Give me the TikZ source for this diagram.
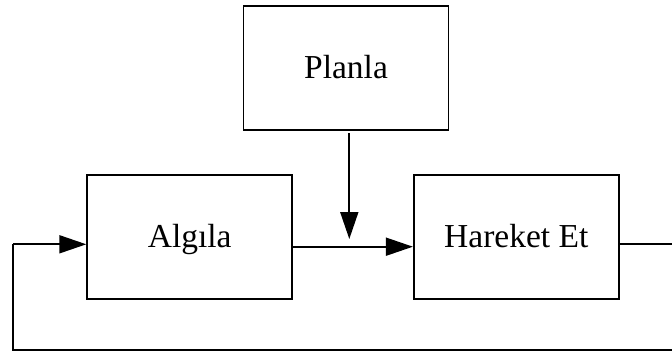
\documentclass[tikz,border=0pt]{standalone}
\usepackage{fontspec}
\setmainfont{Liberation Serif}
\usetikzlibrary{arrows.meta}
\begin{document}
\begin{tikzpicture}[x=1pt,y=-1pt,
  block/.style={draw, line width=1.8pt, minimum width=205pt, minimum height=124pt,
    inner sep=0pt, font=\fontsize{33.5}{36}\selectfont, text height=22pt, text depth=0pt},
  link/.style={line width=1.8pt},
  flow/.style={link, -{Triangle[length=27pt,width=18pt]}}]
  \useasboundingbox (0,0) rectangle (672,353);
  \clip (0,0) rectangle (672,353);

  % the three stages
  \node[block] (planla) at (346,67.8) {Planla};
  \node[block] (algila) at (189.7,236.7) {Algıla};
  \node[block] (hareket) at (516.3,236.7) {Hareket Et};

  % planning feeds into the sense-to-act line
  \coordinate (planOut) at (349.3,133.3);
  \coordinate (planTip) at (349.3,239);
  \draw[flow] (planOut) -- (planTip);

  % sense -> act
  \draw[flow] (algila.east |- 0,246.7) -- (hareket.west |- 0,246.7);

  % feedback loop from act back to sense
  \coordinate (fbRightTop) at (690,244.3);
  \coordinate (fbRightBot) at (690,350);
  \coordinate (fbLeftBot) at (13.3,350);
  \coordinate (fbLeftTop) at (13.3,244.3);
  \draw[link] (hareket.east |- 0,244.3) -- (fbRightTop) -- (fbRightBot) -- (fbLeftBot) -- (fbLeftTop);
  \draw[flow] (fbLeftTop) -- (algila.west |- 0,244.3);
\end{tikzpicture}
\end{document}
